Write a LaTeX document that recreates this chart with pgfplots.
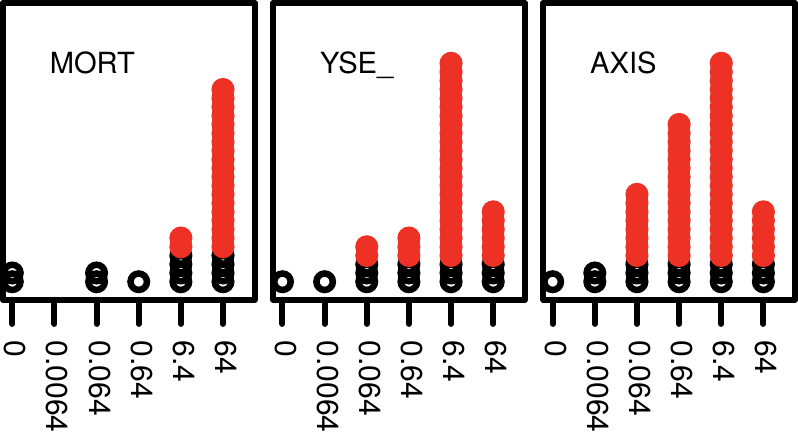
\documentclass[border=0pt]{standalone}
\usepackage{fontspec}
\setmainfont{TeX Gyre Heros}
\usepackage{pgfplots}
\pgfplotsset{compat=1.18}
\definecolor{dotred}{RGB}{237,49,36}

\pgfplotsset{
  panel/.style={
    scale only axis,
    width=125.25pt, height=147.75pt,
    xmin=-0.22, xmax=5.75,
    ymin=-2.07, ymax=31.9,
    axis line style={line width=3pt, line join=round},
    xtick={0,...,5},
    xticklabels={0,0.0064,0.064,0.64,6.4,64},
    xtick pos=bottom,
    ytick=\empty,
    tick align=outside,
    major tick length=12pt,
    tick style={black, line width=3pt, line cap=round},
    xticklabel style={xshift=1.5pt, yshift=-8pt, rotate=-90, anchor=west,
      inner sep=0pt, font=\fontsize{15}{18}\selectfont},
  },
  blk/.style={only marks, mark=o, mark size=4.1pt,
    mark options={draw=black, line width=3.25pt}},
  rd/.style={only marks, mark=*, mark size=4.1pt,
    mark options={draw=dotred, fill=dotred, line width=3.25pt}},
}
\tikzset{
  lab/.style={anchor=base west, inner sep=0pt, xshift=23.1pt, yshift=-35.25pt,
    font=\fontsize{14.5}{17}\selectfont},
}

\begin{document}
\begin{tikzpicture}
% MORT
\begin{axis}[panel, at={(0pt,0pt)}]
\addplot[blk] coordinates {
  (0,0) (0,1)
  (2,0) (2,1)
  (3,0)
  (4,0) (4,1) (4,2) (4,3)
  (5,0) (5,1) (5,2) (5,3)};
\addplot[rd] coordinates {
  (4,4) (4,5)
  (5,4) (5,5) (5,6) (5,7) (5,8) (5,9) (5,10) (5,11) (5,12) (5,13) (5,14)
  (5,15) (5,16) (5,17) (5,18) (5,19) (5,20) (5,21) (5,22)};
\node[lab] at (rel axis cs:0,1) {MORT};
\end{axis}

% YSE_
\begin{axis}[panel, at={(134.5pt,0pt)}]
\addplot[blk] coordinates {
  (0,0)
  (1,0)
  (2,0) (2,1) (2,2)
  (3,0) (3,1) (3,2)
  (4,0) (4,1) (4,2)
  (5,0) (5,1) (5,2)};
\addplot[rd] coordinates {
  (2,3) (2,4)
  (3,3) (3,4) (3,5)
  (4,3) (4,4) (4,5) (4,6) (4,7) (4,8) (4,9) (4,10) (4,11) (4,12) (4,13)
  (4,14) (4,15) (4,16) (4,17) (4,18) (4,19) (4,20) (4,21) (4,22) (4,23)
  (4,24) (4,25)
  (5,3) (5,4) (5,5) (5,6) (5,7) (5,8)};
\node[lab] at (rel axis cs:0,1) {YSE\_};
\end{axis}

% AXIS
\begin{axis}[panel, at={(269pt,0pt)}]
\addplot[blk] coordinates {
  (0,0)
  (1,0) (1,1)
  (2,0) (2,1) (2,2)
  (3,0) (3,1) (3,2)
  (4,0) (4,1) (4,2)
  (5,0) (5,1) (5,2)};
\addplot[rd] coordinates {
  (2,3) (2,4) (2,5) (2,6) (2,7) (2,8) (2,9) (2,10)
  (3,3) (3,4) (3,5) (3,6) (3,7) (3,8) (3,9) (3,10) (3,11) (3,12) (3,13)
  (3,14) (3,15) (3,16) (3,17) (3,18)
  (4,3) (4,4) (4,5) (4,6) (4,7) (4,8) (4,9) (4,10) (4,11) (4,12) (4,13)
  (4,14) (4,15) (4,16) (4,17) (4,18) (4,19) (4,20) (4,21) (4,22) (4,23)
  (4,24) (4,25)
  (5,3) (5,4) (5,5) (5,6) (5,7) (5,8)};
\node[lab] at (rel axis cs:0,1) {AXIS};
\end{axis}
\end{tikzpicture}
\end{document}
